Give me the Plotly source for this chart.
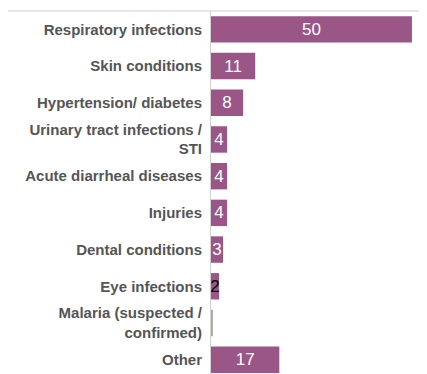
import plotly.graph_objects as go

categories = [
    "Respiratory infections",
    "Skin conditions",
    "Hypertension/ diabetes",
    "Urinary tract infections /<br>STI",
    "Acute diarrheal diseases",
    "Injuries",
    "Dental conditions",
    "Eye infections",
    "Malaria (suspected /<br>confirmed)",
    "Other",
]
values = [50, 11, 8, 4, 4, 4, 3, 2, 0.3, 17]
labels = ["50", "11", "8", "4", "4", "4", "3", "2", "", "17"]

PURPLE = "#9a5687"
bar_colors = [PURPLE] * len(values)
bar_colors[8] = "#b3ada3"
text_colors = ["white"] * len(values)
text_colors[7] = "black"

# page body has an 8px margin; compensate
W, H = 419, 366
L, R, T, B = 203, 5, 3, 0

fig = go.Figure(
    go.Bar(
        x=values,
        y=categories,
        orientation="h",
        marker=dict(color=bar_colors, line=dict(width=0)),
        width=0.72,
        text=labels,
        textposition="inside",
        insidetextanchor="middle",
        constraintext="none",
        textfont=dict(family="Arial, Liberation Sans, sans-serif", size=17, color=text_colors),
        hoverinfo="skip",
    )
)

fig.update_layout(
    width=W,
    height=H,
    margin=dict(l=L, r=R, t=T, b=B, pad=0),
    paper_bgcolor="white",
    plot_bgcolor="white",
    showlegend=False,
    xaxis=dict(
        range=[0, 52.5],
        showgrid=False,
        zeroline=False,
        showticklabels=False,
        showline=False,
        ticks="",
    ),
    yaxis=dict(
        range=[9.39, -0.5],
        showgrid=False,
        zeroline=False,
        showline=True,
        linecolor="#d0d0d0",
        linewidth=1,
        ticks="",
        ticklabelstandoff=5,
        tickfont=dict(family="Arial, Liberation Sans, sans-serif", size=15, color="#555555", weight="bold"),
    ),
)

pw = W - L - R
# container frame: top line and right border
fig.add_shape(type="line", xref="paper", yref="paper",
              x0=(0 - L) / pw, x1=1, y0=1, y1=1,
              line=dict(color="#d0d0d0", width=1))
fig.add_shape(type="line", xref="paper", yref="paper",
              x0=1, x1=1, y0=0, y1=1,
              line=dict(color="#d0d0d0", width=1))

fig.write_html("out.html")
